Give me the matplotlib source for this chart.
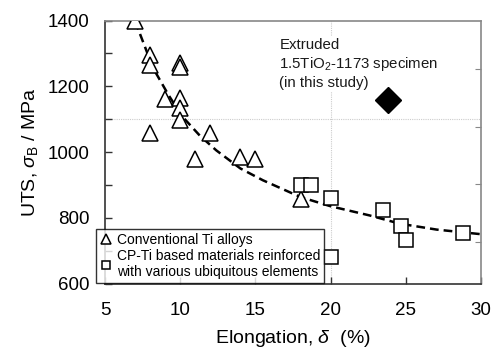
import matplotlib.pyplot as plt
import numpy as np

plt.rcParams["font.family"] = ["Liberation Sans", "DejaVu Sans"]
plt.rcParams["mathtext.fontset"] = "custom"
plt.rcParams["mathtext.rm"] = "Liberation Sans"
plt.rcParams["mathtext.it"] = "Liberation Sans:italic"

# Conventional Ti alloys (triangles)
ti_elong = [7, 8, 8, 10, 10, 9, 10, 10, 10, 8, 12, 11, 14, 15, 18]
ti_uts = [1400, 1295, 1265, 1270, 1258, 1160, 1165, 1135, 1098, 1058, 1058, 978, 985, 978, 858]

# CP-Ti based materials (squares)
cp_elong = [18, 18.7, 20, 20, 23.5, 24.7, 25, 28.8]
cp_uts = [900, 900, 860, 680, 825, 775, 732, 755]

# this study
study_elong = [23.8]
study_uts = [1159]

# dashed trend curve
fit_elong = [7, 8.2, 9.2, 10.1, 11.3, 12.4, 14, 15.5, 18, 20, 22.6, 24.6, 27.05, 30]
fit_uts = [1398, 1255, 1175, 1110, 1050, 1005, 950, 914, 863, 835, 807, 782, 764, 750]

right_ticks = [727, 902, 1077, 1252]

fig = plt.figure(figsize=(4.94, 3.5), dpi=100)
ax = fig.add_axes([0.2126, 0.19, 0.761, 0.7514])

ax.axhline(1100, color="#cccccc", lw=0.8, ls=(0, (1, 1)), zorder=0)
ax.axvline(20, color="#cccccc", lw=0.8, ls=(0, (1, 1)), zorder=0)

ax.plot(fit_elong, fit_uts, color="black", lw=1.8, ls=(0, (3.5, 2)), zorder=2)
ax.plot(ti_elong, ti_uts, ls="none", marker="^", ms=11, mfc="white", mec="black",
        mew=1.1, label="Conventional Ti alloys", zorder=3)
ax.plot(cp_elong, cp_uts, ls="none", marker="s", ms=9.5, mfc="white", mec="black",
        mew=1.1, label="CP-Ti based materials reinforced\nwith various ubiquitous elements", zorder=3)
ax.plot(study_elong, study_uts, ls="none", marker="D", ms=13, color="black", zorder=4)

ax.text(16.6, 1348, "Extruded\n1.5TiO$_2$-1173 specimen\n(in this study)", fontsize=10.8,
        va="top", ha="left", color="#1a1a1a", linespacing=1.28,
        bbox=dict(facecolor="white", edgecolor="none", pad=1))

ax.set_xlim(5, 30)
ax.set_ylim(600, 1400)
ax.set_xticks([5, 10, 15, 20, 25, 30])
ax.set_yticks([600, 800, 1000, 1200, 1400])
ax.set_yticks(np.arange(700, 1400, 200), minor=True)
ax.tick_params(axis="both", direction="in", labelsize=13.5, length=5, width=1, pad=11, color="#333333")
ax.tick_params(axis="x", pad=13)
ax.tick_params(axis="y", which="minor", direction="in", length=5, width=1, color="#333333")

for side in ["left", "bottom"]:
    ax.spines[side].set_color("#333333")
    ax.spines[side].set_linewidth(1.2)
for side in ["top", "right"]:
    ax.spines[side].set_color("#888888")
    ax.spines[side].set_linewidth(1.2)

ax2 = ax.twinx()
ax2.set_ylim(600, 1400)
ax2.set_yticks(right_ticks)
ax2.tick_params(axis="y", direction="in", length=4, color="#888888", labelright=False)
for side in ["top", "right", "left", "bottom"]:
    ax2.spines[side].set_visible(False)

ax.set_xlabel("Elongation, $\\mathit{\\delta}$  (%)", fontsize=14, labelpad=7)
ax.set_ylabel("UTS, $\\mathit{\\sigma}_{\\rm B}$ / MPa", fontsize=14, labelpad=6)

leg = ax.legend(loc="lower left", bbox_to_anchor=(-0.035, -0.015), fontsize=10, frameon=True,
                fancybox=False, edgecolor="black", handlelength=0.8, handletextpad=0.4,
                borderpad=0.3, labelspacing=0.15, markerscale=0.6, borderaxespad=0.3)
leg.get_frame().set_linewidth(1)
leg.set_zorder(5)

fig.savefig("out.png", dpi=100)
